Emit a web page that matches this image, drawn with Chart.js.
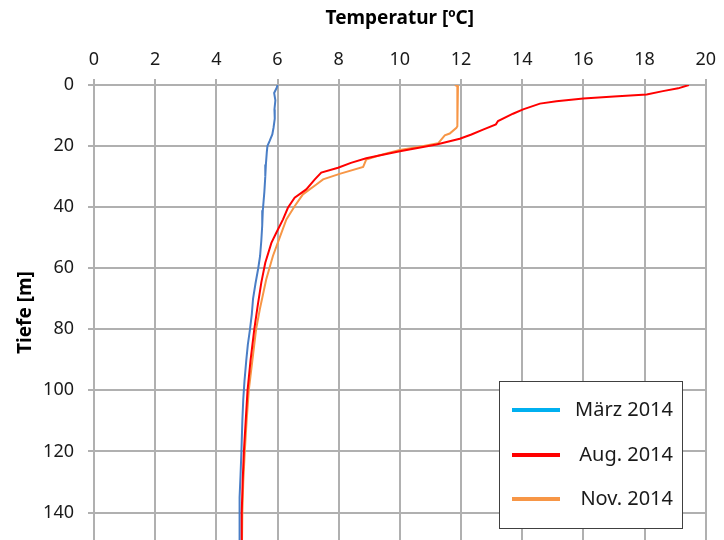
<!DOCTYPE html>
<html>
<head>
<meta charset="utf-8">
<script src="https://cdn.jsdelivr.net/npm/chart.js@4"></script>
<style>
  body { margin: 0; background: #fff; }
  canvas { display: block; }
</style>
</head>
<body>
<canvas id="profileChart" width="724" height="540"></canvas>
<script>
// Temperaturprofile: Tiefe [m] gegen Temperatur [ºC]
const seriesLabels = ["März 2014", "Aug. 2014", "Nov. 2014"];
const lineColors = ["#4a7ec6", "#ff0000", "#f79646"];
const legendColors = ["#00b0f0", "#ff0000", "#f79646"];

const maerzDepth = [0, 1, 2.6, 5, 8, 11, 14, 16.2, 18.4, 20, 22, 26, 30, 35, 41, 46, 51, 56, 60, 65, 70, 75, 80, 85, 90, 97, 103, 110, 120, 128, 135, 149];
const maerzTemp  = [6.00, 5.97, 5.89, 5.93, 5.90, 5.91, 5.87, 5.83, 5.74, 5.67, 5.65, 5.62, 5.60, 5.57, 5.52, 5.50, 5.47, 5.43, 5.37, 5.28, 5.20, 5.16, 5.10, 5.03, 4.98, 4.92, 4.88, 4.85, 4.82, 4.79, 4.76, 4.76];

const augDepth = [0, 1.1, 2, 3.1, 3.8, 4.4, 5.3, 6.1, 8, 9.4, 11.8, 12.9, 14.6, 16.2, 17.6, 19.5, 21.7, 22.5, 24, 25.5, 27.1, 28.7, 30.9, 34.2, 36.9, 40.2, 44, 48.4, 51.7, 58.2, 64.7, 72.4, 80, 90, 100, 110, 120, 130, 140, 149];
const augTemp  = [19.45, 19.1, 18.6, 18.07, 17.0, 16.0, 15.12, 14.58, 14.03, 13.7, 13.21, 13.14, 12.72, 12.34, 11.96, 11.2, 10.0, 9.6, 8.9, 8.4, 7.98, 7.43, 7.22, 6.94, 6.56, 6.34, 6.18, 5.96, 5.80, 5.60, 5.47, 5.35, 5.24, 5.12, 5.02, 4.96, 4.90, 4.86, 4.83, 4.83];

const novDepth = [0, 0.4, 3, 8, 13.5, 14, 15.9, 16.5, 17.8, 19.1, 20.2, 21.3, 23, 24.4, 26.8, 29.1, 30.9, 32.6, 35.8, 39.7, 44, 50, 56, 63.7, 73.5, 80, 90, 100, 110, 120, 130, 140, 149];
const novTemp  = [11.8, 11.9, 11.88, 11.88, 11.88, 11.85, 11.63, 11.47, 11.36, 11.25, 10.65, 10.0, 9.34, 8.9, 8.8, 8.03, 7.49, 7.27, 6.83, 6.56, 6.29, 6.07, 5.85, 5.63, 5.42, 5.30, 5.18, 5.06, 4.99, 4.93, 4.88, 4.85, 4.84];

const xTicksMin = 0, xTicksMax = 20, xStep = 2;
const yTicksMin = 0, yTicksMax = 149, yStep = 20;

const toPoints = (temps, depths) => temps.map((t, i) => ({ x: t, y: depths[i] }));

const font = "'Noto Sans', 'DejaVu Sans', sans-serif";
const gridColor = "#b0b0b0";

// boxed legend in the lower right corner of the plot
const boxLegend = {
    id: "boxLegend",
    afterDraw(chart) {
        const c = chart.ctx;
        c.save();
        c.fillStyle = "#ffffff";
        c.fillRect(499, 381, 183, 147);
        c.strokeStyle = "#404040";
        c.lineWidth = 1;
        c.strokeRect(499.5, 381.5, 183, 147);
        const rows = [410, 455, 499];
        chart.data.datasets.forEach((ds, i) => {
            c.strokeStyle = legendColors[i];
            c.lineWidth = 4;
            c.beginPath();
            c.moveTo(512, rows[i]);
            c.lineTo(560, rows[i]);
            c.stroke();
            c.fillStyle = "#1a1a1a";
            c.font = "20px " + font;
            c.textAlign = "right";
            c.textBaseline = "middle";
            c.fillText(ds.label, 673, rows[i]);
        });
        c.restore();
    }
};

const ctx = document.getElementById("profileChart").getContext("2d");
new Chart(ctx, {
    type: "scatter",
    data: {
        datasets: [
            { label: seriesLabels[0], data: toPoints(maerzTemp, maerzDepth), borderColor: lineColors[0], order: 3 },
            { label: seriesLabels[1], data: toPoints(augTemp, augDepth), borderColor: lineColors[1], order: 1 },
            { label: seriesLabels[2], data: toPoints(novTemp, novDepth), borderColor: lineColors[2], order: 2 }
        ].map(ds => Object.assign(ds, { showLine: true, borderWidth: 2, pointRadius: 0, tension: 0, fill: false }))
    },
    options: {
        responsive: false,
        animation: false,
        layout: { padding: { top: 0, right: 18, bottom: 0, left: 0 } },
        plugins: { legend: { display: false }, tooltip: { enabled: false } },
        scales: {
            x: {
                type: "linear",
                position: "top",
                min: xTicksMin,
                max: xTicksMax,
                ticks: { stepSize: xStep, color: "#1a1a1a", font: { family: font, size: 18 }, padding: 8 },
                grid: { color: gridColor, lineWidth: 2, tickLength: 6 },
                border: { color: gridColor, width: 2 },
                title: { display: true, text: "Temperatur [ºC]", color: "#000", font: { family: font, size: 19, weight: "bold" }, padding: { top: 7, bottom: 0 } },
                afterFit(scale) { scale.height = 85; }
            },
            y: {
                type: "linear",
                reverse: true,
                min: yTicksMin,
                max: yTicksMax,
                ticks: { stepSize: yStep, includeBounds: false, color: "#1a1a1a", font: { family: font, size: 18 }, padding: 14 },
                grid: { color: gridColor, lineWidth: 2, tickLength: 6 },
                border: { color: gridColor, width: 2 },
                title: { display: true, text: "Tiefe [m]", color: "#000", font: { family: font, size: 19, weight: "bold" }, padding: { top: 14, bottom: 0 } },
                afterFit(scale) {
                    scale.width = 94;
                    scale.paddingTop = 0;
                    scale.paddingBottom = 0;
                }
            }
        }
    },
    plugins: [boxLegend]
});
</script>
</body>
</html>
